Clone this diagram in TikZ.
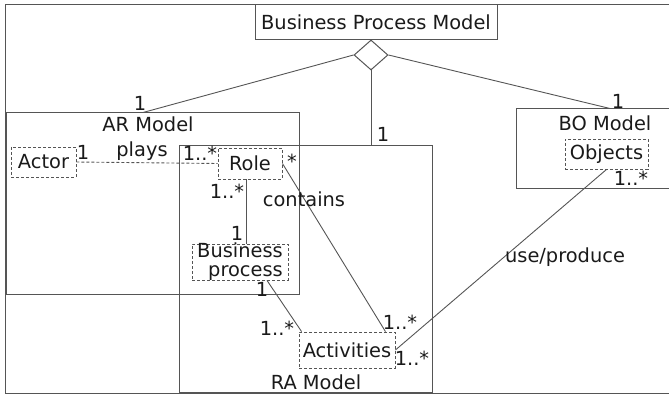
\documentclass[tikz,border=0pt]{standalone}
\usepackage{fontspec}
\setmainfont{DejaVu Sans}
\usetikzlibrary{shapes,calc}
\definecolor{LineGrey}{HTML}{555555}
\definecolor{InkGrey}{HTML}{1a1a1a}
\tikzset{
    block/.style = {draw=LineGrey, rectangle, line width=0.5pt,
        inner sep=0pt},
    part/.style = {draw=LineGrey, rectangle, line width=0.45pt,
        dash pattern=on 1.5pt off 1pt, inner sep=0pt, text=InkGrey},
    link/.style = {draw=LineGrey, line width=0.45pt},
    lbl/.style = {text=InkGrey, inner sep=0pt, anchor=center}
}

\begin{document}
\begin{tikzpicture}[x=0.5pt,y=-0.5pt,every node/.style={font=\fontsize{9.7pt}{9.5pt}\selectfont}]
                \useasboundingbox (0,0) rectangle (669,395);
                \draw[LineGrey, line width=0.5pt] (5,5) rectangle (675,393);
                \node[block, minimum width=121pt, minimum height=17.5pt, text=InkGrey] (bpm) at (376,22.5) {Business Process Model};
                \node[diamond, draw=LineGrey, line width=0.5pt, minimum width=17pt, minimum height=15pt, inner sep=0pt] (diam) at (371,55) {};
                \node[block, minimum width=146.5pt, minimum height=90.5pt] (ar) at (152.5,203.5) {};
                \node[block, minimum width=126.5pt, minimum height=123pt] (ra) at (305.5,269) {};
                \node[block, minimum width=79pt, minimum height=40pt] (bo) at (595,149) {};
                \node[lbl] (artitle) at (148,124) {AR Model};
                \node[lbl] (botitle) at (605,123) {BO Model};
                \node[lbl] (ratitle) at (316,382) {RA Model};
                \node[part, minimum width=32.5pt, minimum height=15pt] (actor) at (43.5,162) {Actor};
                \node[part, minimum width=32pt, minimum height=15.5pt] (role) at (250,163.5) {Role};
                \node[part, minimum width=48pt, minimum height=18pt, inner ysep=-0.5pt, align=right] (bproc) at (240,262) {Business\\process};
                \node[part, minimum width=48pt, minimum height=18pt] (act) at (347,350) {Activities};
                \node[part, minimum width=41.5pt, minimum height=15pt] (obj) at (606.5,154) {Objects};
                \draw[link] (diam.west) -- ([xshift=-4.75pt]ar.north);
                \draw[link] (diam.east) -- ([xshift=7.5pt]bo.north);
                \draw[link] (diam.south) -- (diam.south |- ra.north);
                \draw[link, dash pattern=on 1.5pt off 1pt] (actor.east) -- (role.west);
                \draw[link] ([xshift=-2pt]role.south) -- ([xshift=-2pt]role.south |- bproc.north);
                \draw[link] ([xshift=13.5pt]bproc.south) -- ([xshift=1.5pt]act.north west);
                \draw[link] (role.east) -- ([xshift=-5pt]act.north east);
                \draw[link] (act.east) -- (obj.south);
                \node[lbl] (mar) at (140,103) {1};
                \node[lbl] (mra) at (383,134) {1};
                \node[lbl] (mbo) at (618,101) {1};
                \node[lbl] (mactor) at (83,152) {1};
                \node[lbl] (plays) at (142,151) {plays};
                \node[lbl] (mroleleft) at (200,153) {1..*};
                \node[lbl] (mroleright) at (292,161) {*};
                \node[lbl] (mrolelow) at (227,191) {1..*};
                \node[lbl] (contains) at (304,199) {contains};
                \node[lbl] (mbproctop) at (237,233) {1};
                \node[lbl] (mbproclow) at (262,289) {1};
                \node[lbl] (mactleft) at (277,328) {1..*};
                \node[lbl] (mactup) at (400,322) {1..*};
                \node[lbl] (mactright) at (412,358) {1..*};
                \node[lbl] (mobj) at (631,178) {1..*};
                \node[lbl] (useprod) at (565,257) {use/produce};
            \end{tikzpicture}
\end{document}
